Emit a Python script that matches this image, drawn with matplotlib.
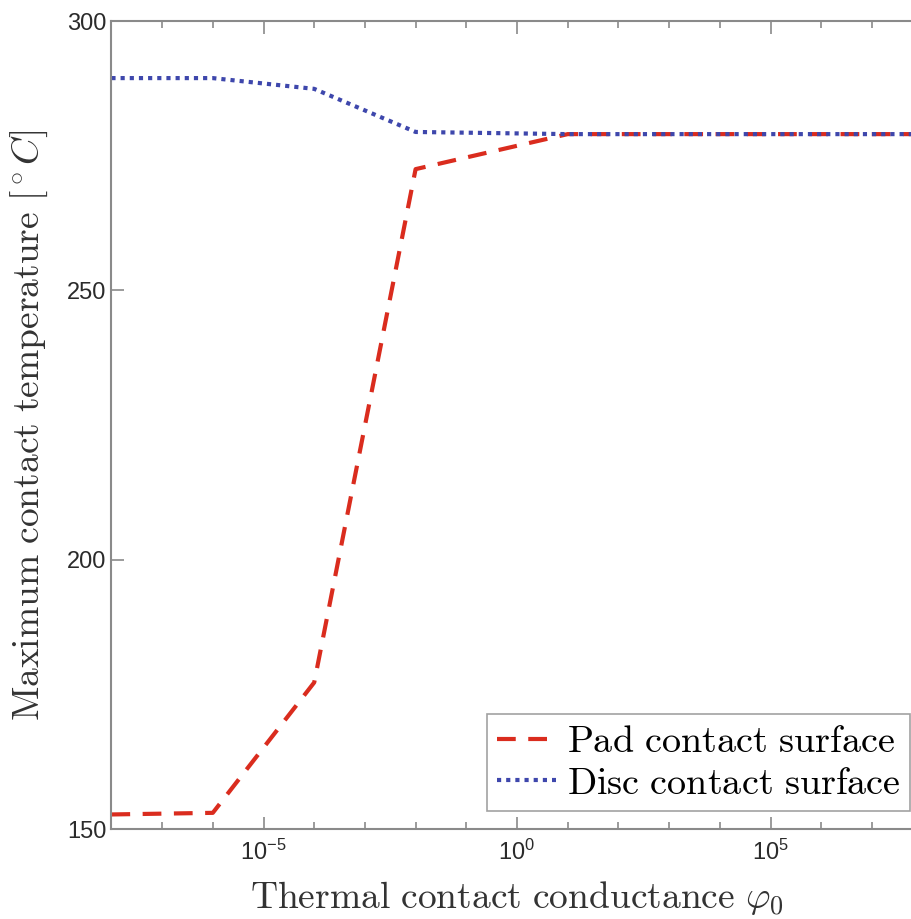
import numpy as np
import matplotlib
matplotlib.use("Agg")
import matplotlib.pyplot as plt
from matplotlib.ticker import FixedLocator, LogFormatterSciNotation, NullFormatter

plt.rcParams['font.family'] = ['Liberation Sans', 'DejaVu Sans']
plt.rcParams['mathtext.fontset'] = 'cm'

# conductance values (log scale) and max temperatures
phi0 = [1e-8, 1e-6, 1e-4, 1e-2, 1e1, 1e4, 1e7, 1e8]
pad_temp = [152.7, 153.0, 177.2, 272.5, 279.0, 279.0, 279.0, 279.0]
disc_temp = [289.4, 289.4, 287.4, 279.4, 279.0, 279.0, 279.0, 279.0]

fig = plt.figure(figsize=(9.12, 9.19), dpi=100)
ax = fig.add_axes([111.4 / 912, 90 / 919, (922.6 - 111.4) / 912, (829 - 21) / 919])

ax.plot(phi0, pad_temp, color='#DA2C1E', lw=3.0, dashes=(4.5, 3.0),
        label=r'$\mathrm{Pad\ contact\ surface}$')
ax.plot(phi0, disc_temp, color='#3E47AC', lw=3.0, dashes=(1.0, 1.2),
        label=r'$\mathrm{Disc\ contact\ surface}$')

ax.set_xscale('log')
ax.set_xlim(1e-8, 1e8)
ax.set_ylim(150, 300)
ax.set_yticks([150, 200, 250, 300])
ax.xaxis.set_major_locator(FixedLocator([1e-5, 1e0, 1e5]))
ax.xaxis.set_major_formatter(LogFormatterSciNotation())
ax.xaxis.set_minor_locator(FixedLocator([10.0 ** k for k in range(-8, 9)]))
ax.xaxis.set_minor_formatter(NullFormatter())

for s in ax.spines.values():
    s.set_color('#8a8a8a')
    s.set_linewidth(1.5)
ax.tick_params(which='both', direction='in', colors='#8a8a8a', labelcolor='#2b2b2b',
               labelsize=17, top=True, right=False, width=1.2)
ax.tick_params(which='major', length=9)
ax.tick_params(which='minor', length=5)
ax.tick_params(axis='x', pad=8)

ax.set_xlabel(r'$\mathrm{Thermal\ contact\ conductance}\ \varphi_0$', fontsize=27,
              color='#333333', labelpad=10)
ax.set_ylabel(r'$\mathrm{Maximum\ contact\ temperature}\ [^\circ C]$', fontsize=27,
              color='#333333', labelpad=12)

leg = ax.legend(loc='lower right', bbox_to_anchor=(0.985, 0.022), fontsize=27.5,
                frameon=True, fancybox=False, handlelength=1.55, handletextpad=0.3,
                borderpad=0.25, labelspacing=0.15, borderaxespad=0)
leg.get_frame().set_edgecolor('#8a8a8a')
leg.get_frame().set_linewidth(1.2)

fig.savefig('out.png', dpi=100)
